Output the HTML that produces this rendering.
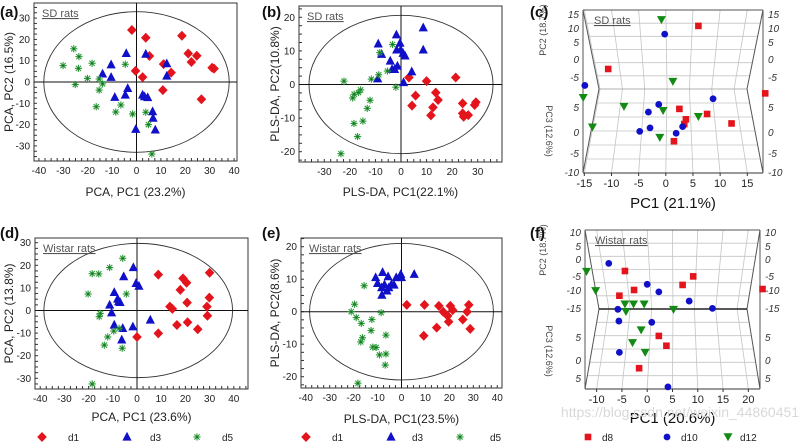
<!DOCTYPE html>
<html><head><meta charset="utf-8"><style>
html,body{margin:0;padding:0;background:#fff}
svg{display:block;font-family:"Liberation Sans",sans-serif}
</style></head><body>
<svg id="fig" width="810" height="446" viewBox="0 0 810 446" xmlns="http://www.w3.org/2000/svg"></svg>
<script>
// ---------- Panel (a) PCA SD rats ----------
const a_d1=[[-1.9,24.4],[3.8,20.8],[18.6,21.7],[5.3,12.2],[21.2,13.4],[24.7,12.3],[22.5,9.4],[-0.4,5.2],[2.5,2.3],[11.1,8.4],[14.2,4.4],[10.8,-3.8],[31,6.7],[31.8,6.3],[26.6,-8.1]];
const a_d3=[[-4.2,13.4],[3.8,13.1],[-10.4,8.1],[-13.9,3.8],[-10.4,2.2],[-3.6,-3],[-4.6,-6.1],[-8.9,-7.2],[2.5,-6.1],[3.3,-6.9],[4.6,-7.3],[12.4,8.6],[12.4,2.8],[6.6,-13.9],[6.8,-17],[7.7,-22.5],[-0.3,-22.2]];
const a_d5=[[-25.7,15.6],[-23.6,11.9],[-30.1,7.7],[-23.8,6.4],[-18.2,8.8],[-20.1,1.7],[-25.1,-1.2],[-15.3,1.4],[-13.9,-0.9],[-15.3,-3.8],[-16.5,-11.6],[-4.6,8.3],[-6.4,-10.8],[-8.5,-14.1],[-1.6,-15],[3.8,-14.2],[4.9,-20],[6.3,-33.8]];
// ---------- Panel (b) PLS-DA SD rats ----------
const b_d1=[[3.1,2.1],[10,1],[21.4,2.1],[5.7,-3.3],[4.3,-6.3],[13.6,-2.4],[14.5,-4.6],[12.5,-6.8],[11.7,-9.2],[24.1,-5.6],[29.3,-5.3],[28.8,-6.1],[24.1,-8.6],[26.3,-9.1],[24.5,-9.6]];
const b_d3=[[8.7,16.9],[8.7,10.3],[-1.8,14.8],[-8.9,12.1],[-7.6,9],[-0.4,12.3],[-0.1,10.3],[-1.7,10.3],[0.8,9.3],[1.6,8.5],[-4.2,7],[-3.5,4.5],[-2.5,4.5],[-1.4,5.5],[4.2,3.8],[-9.1,1.7],[1,0.6]];
const b_d5=[[-3.3,11.9],[-8.3,9.5],[-8.7,2.9],[-5.3,4],[-11.6,1.6],[-2,-0.8],[-22.3,1],[-15.8,-1.6],[-16.6,-2.4],[-18.3,-2.9],[-18.9,-4],[-12.1,-4.7],[-13.2,-7.1],[-14.9,-10.9],[-18.4,-11.6],[-17,-15.5],[-23.5,-20.6]];
// ---------- Panel (d) PCA Wistar ----------
const d_d1=[[8.8,15.9],[19,14.2],[20.5,12.3],[30,16.7],[17.9,9.1],[29.9,5.7],[20.7,3.5],[13.6,1.7],[14.6,0.7],[28.9,1.7],[29.1,-2.3],[16.5,-6.4],[20.9,-5.2],[25.1,-8.3],[8.8,-10.1],[0,-11.7]];
const d_d3=[[-1.5,19],[-5.5,15],[-9.4,8],[-8,5.1],[-7,3.6],[-11.3,2.4],[-10.5,-1],[-9.4,-6.4],[-5.9,-7.9],[-1.7,-7.2],[-0.4,12],[0.8,10.8],[5.5,-4.2],[-6.3,-13],[-7.6,3.9]];
const d_d5=[[-5.9,23.1],[-11.3,19],[-18.5,16.3],[-15.8,16.2],[-20.2,7.3],[-4.4,7.3],[-15.2,-1.3],[-15.6,-2.7],[-7.4,-7.9],[-9.6,-9.1],[-12.1,-11.7],[-13.5,-15.3],[-6.1,-16.7],[-18.5,-32.5]];
// ---------- Panel (e) PLS-DA Wistar ----------
const e_d1=[[2.2,2.1],[9.6,2.1],[15.6,1.8],[20.4,1.8],[28.1,2.1],[17.4,0],[19.3,-1.3],[19.7,-3.1],[21.4,0.5],[27.4,0],[25.6,-2.4],[28.7,-5.3],[14.7,-4.9],[9.3,-7.4]];
const e_d3=[[-7.9,12.1],[-10.8,10.5],[-10,8.7],[-8.3,7.4],[-5.6,10.8],[-4.2,8.4],[-2.2,10.5],[-0.3,11.5],[0,10.5],[-7.1,8.3],[-8.2,5.1],[-6.1,6.4],[-5.3,7.4],[5.3,11.5],[-3.1,8.2]];
const e_d5=[[-15.6,8],[-19.6,2.3],[-21,0],[-18.9,-1.8],[-16.8,-3.6],[-12.4,-2.4],[-8.5,-0.3],[-12.7,-5.8],[-6.5,-7.2],[-16.3,-8],[-17,-9.3],[-12,-10.9],[-10.6,-11],[-9.2,-13.3],[-6.5,-13],[-6.8,-16.4],[-18.2,-22]];
// ---------- Panel (c) 3D SD rats (PC1, projected height) ----------
const c_d8=[[6,11.3],[-10.6,-2.3],[2.5,-14.9],[3.7,-18.2],[3.4,-19.7],[7.6,-16.5],[12.1,-19.5],[18.3,-10],[1.5,-25.1]];
const c_d10=[[-0.2,8.7],[-14.9,-7.5],[-1.3,-13.5],[-3.2,-15.9],[-2.9,-20.9],[-4.8,-22],[1.9,-22.6],[3.1,-20.5],[8.7,-11.7]];
const c_d12=[[-0.8,13.2],[1.3,-6.3],[-15.2,-11.4],[-7.7,-14.2],[-0.5,-15.5],[-13.5,-20.7],[-1.1,-24],[6,-17.4]];
// ---------- Panel (f) 3D Wistar ----------
const f_d8=[[-4.4,1.8],[-2.6,-4.2],[-5.5,-6],[7,-2.6],[9.1,0.1],[22.8,-3.9],[2.3,-18.7],[3.8,-21.8],[-1.6,-28.9]];
const f_d10=[[-7.6,4.2],[0,-2.4],[2.3,-4.8],[8.3,-7.7],[12.9,-10],[-5.8,-10.3],[-5.6,-14],[0.9,-14.4],[-5.5,-23.9],[4.1,-34.8]];
const f_d12=[[-12,1.6],[-10.2,-4.5],[-4.4,-8.7],[-2.7,-8.7],[-0.6,-8.7],[-4.2,-11.1],[5.2,-10.4],[-1.2,-16.9],[-2.9,-20.9],[-0.4,-24]];
const xt2d=[-40,-30,-20,-10,0,10,20,30,40];
const xtPLS=[-30,-20,-10,0,10,20,30];
const yt30=[-30,-20,-10,0,10,20,30];
const yt20=[-20,-10,0,10,20];
const c_xt=[-15,-10,-5,0,5,10,15];
const f_xt=[-10,-5,0,5,10,15,20];

const NS="http://www.w3.org/2000/svg";
const svg=document.getElementById('fig');
const RED="#e3141b",BLUE="#1010c8",GRN="#2a9a3a",DGRN="#138a13";
function mk(tag,attrs,parent){const e=document.createElementNS(NS,tag);for(const k in attrs)e.setAttribute(k,attrs[k]);(parent||svg).appendChild(e);return e;}
function txt(s,x,y,size,anchor,parent,extra){const t=mk('text',Object.assign({x:x,y:y,'font-size':size,'text-anchor':anchor||'middle',fill:'#222'},extra||{}),parent);t.textContent=s;return t;}
function diamond(g,x,y){const p=mk('polygon',{points:`${x},${y-5} ${x+4.8},${y} ${x},${y+5} ${x-4.8},${y}`,fill:RED},g);return p;}
function tri(g,x,y,c){const p=mk('polygon',{points:`${x},${y-5.2} ${x+4.6},${y+3.6} ${x-4.6},${y+3.6}`,fill:c||BLUE},g);return p;}
function star(g,x,y){const s=mk('g',{stroke:GRN,'stroke-width':1.1},g);
 const r=3.6,q=2.6;mk('line',{x1:x-r,y1:y,x2:x+r,y2:y},s);mk('line',{x1:x,y1:y-r,x2:x,y2:y+r},s);mk('line',{x1:x-q,y1:y-q,x2:x+q,y2:y+q},s);mk('line',{x1:x-q,y1:y+q,x2:x+q,y2:y-q},s);mk('circle',{cx:x,cy:y,r:1,fill:'#1d6e1d',stroke:'none'},s);return s;}
function square(g,x,y){const p=mk('rect',{x:x-3.3,y:y-3.3,width:6.6,height:6.6,fill:RED},g);return p;}
function dot(g,x,y){const p=mk('circle',{cx:x,cy:y,r:3.4,fill:BLUE},g);return p;}
function vtri(g,x,y){const p=mk('polygon',{points:`${x-4.5},${y-3.8} ${x+4.5},${y-3.8} ${x},${y+4.2}`,fill:DGRN},g);return p;}

function panel2d(o){
 const g=mk('g',{});
 const X=v=>o.x0+o.sx*v, Y=v=>o.y0-o.sy*v;
 const [L,T,R,B]=o.box;
 mk('rect',{x:L,y:T,width:R-L,height:B-T,fill:'none',stroke:'#333','stroke-width':1},g);
 // minor ticks
 for(let v=Math.ceil((L-o.x0)/o.sx/2.5)*2.5; X(v)<=R; v+=2.5){mk('line',{x1:X(v),y1:B,x2:X(v),y2:B-3,stroke:'#333'},g);}
 for(let v=Math.ceil((o.y0-B)/o.sy/2.5)*2.5; Y(v)>=T; v+=2.5){mk('line',{x1:L,y1:Y(v),x2:L+3,y2:Y(v),stroke:'#333'},g);}
 o.xt.forEach(v=>{const t=txt(String(v),X(v),B+13,10,'middle',g);});
 o.yt.forEach(v=>{const t=txt(String(v),L-4,Y(v)+3.5,10,'end',g);});
 const el=mk('ellipse',{cx:X(o.ell[0]),cy:Y(0),rx:o.ell[1]*o.sx,ry:o.ell[2]*o.sy,fill:'none',stroke:'#333','stroke-width':0.9},g);
 
 mk('line',{x1:L,y1:Y(0),x2:R,y2:Y(0),stroke:'#111'},g);mk('line',{x1:X(0),y1:T,x2:X(0),y2:B,stroke:'#111'},g);
 const lab=txt(o.group,L+8,T+14,11,'start',g,{fill:'#555','text-decoration':'underline'});
 const xt=txt(o.xtitle,(L+R)/2,o.xtY,12,'middle',g);
 const yt=txt(o.ytitle,0,0,12,'middle',g,{transform:`translate(${o.ytX},${(T+B)/2}) rotate(-90)`});
 o.d1.forEach(p=>diamond(g,X(p[0]),Y(p[1])));
 o.d3.forEach(p=>tri(g,X(p[0]),Y(p[1])));
 o.d5.forEach(p=>star(g,X(p[0]),Y(p[1])));
}
panel2d({name:'panel-a-pca-sd',x0:136.5,sx:2.44,y0:82,sy:2.13,box:[34,3,237,161],xt:xt2d,yt:yt30,ell:[0,38,33],group:'SD rats',xtitle:'PCA, PC1 (23.2%)',xtY:196,ytitle:'PCA, PC2 (16.5%)',ytX:13,d1:a_d1,d3:a_d3,d5:a_d5});
panel2d({name:'panel-b-plsda-sd',x0:401,sx:2.557,y0:84.5,sy:3.36,box:[299,6,502,162],xt:xtPLS,yt:yt20,ell:[0,36,20.6],group:'SD rats',xtitle:'PLS-DA, PC1(22.1%)',xtY:196,ytitle:'PLS-DA, PC2(10.8%)',ytX:279,d1:b_d1,d3:b_d3,d5:b_d5});
panel2d({name:'panel-d-pca-wistar',x0:137,sx:2.42,y0:310.5,sy:2.26,box:[35,238,248,389],xt:xt2d,yt:yt30,ell:[0.5,39,29.7],group:'Wistar rats',xtitle:'PCA, PC1 (23.6%)',xtY:421,ytitle:'PCA, PC2 (13.8%)',ytX:13,d1:d_d1,d3:d_d3,d5:d_d5});
panel2d({name:'panel-e-plsda-wistar',x0:401.5,sx:2.394,y0:311.7,sy:3.25,box:[301,238,502,388],xt:xt2d,yt:yt20,ell:[0,38.4,21],group:'Wistar rats',xtitle:'PLS-DA, PC1(23.5%)',xtY:423,ytitle:'PLS-DA, PC2(8.6%)',ytX:279,d1:e_d1,d3:e_d3,d5:e_d5});

function panel3d(o){
 const g=mk('g',{});
 const X=v=>o.x0+o.sx*v, Y=v=>o.y0-3.167*v;
 const {L,R,T,B,M,iL,iR}=o;
 const back=fx=>iL+(fx-L)*(iR-iL)/(R-L);
 // horizontal grid
 for(let i=1;i<6;i++){const f=i/6;
  const y1=T+(M-T)*f, xa=L+(iL-L)*f, xb=R-(R-iR)*f; mk('line',{x1:xa,y1:y1,x2:xb,y2:y1,stroke:'#c4c4c4','stroke-width':0.8},g);
  const y2=B-(B-M)*f; mk('line',{x1:xa,y1:y2,x2:xb,y2:y2,stroke:'#c4c4c4','stroke-width':0.8},g);}
 o.xt.forEach(v=>{const fx=X(v),bx=back(fx);mk('polyline',{points:`${fx},${T} ${bx},${M} ${fx},${B}`,fill:'none',stroke:'#c4c4c4','stroke-width':0.8},g);
   mk('line',{x1:fx,y1:B,x2:fx,y2:B+3,stroke:'#333'},g);
   const t=txt(String(v),fx,B+14,11,'middle',g);});
 mk('line',{x1:L,y1:T,x2:R,y2:T,stroke:'#555'},g);mk('line',{x1:L,y1:B,x2:R,y2:B,stroke:'#333'},g);
 mk('polyline',{points:`${L},${T} ${iL},${M} ${L},${B}`,fill:'none',stroke:'#555'},g);
 mk('polyline',{points:`${R},${T} ${iR},${M} ${R},${B}`,fill:'none',stroke:'#555'},g);
 mk('line',{x1:L,y1:T,x2:L,y2:B,stroke:'#555'},g);mk('line',{x1:R,y1:T,x2:R,y2:B,stroke:'#555'},g);
 mk('line',{x1:iL,y1:M,x2:iR,y2:M,stroke:o.midDark?'#222':'#999','stroke-width':o.midDark?1.4:0.8},g);
 o.side.forEach(s=>{const a=txt(s[0],L-4,s[1]+3,10,'end',g,{fill:'#333','font-style':'italic'});
   const b=txt(s[0],R+5,s[1]+3,10,'start',g,{fill:'#333','font-style':'italic'});});
 const t1=txt(o.pc2,0,0,9,'middle',g,{fill:'#444',transform:`translate(${o.axX},${T+20}) rotate(-90)`});
 const t2=txt(o.pc3,0,0,9,'middle',g,{fill:'#444',transform:`translate(${o.axX},${M+42}) rotate(90)`});
 const xt=txt(o.xtitle,(L+R)/2,o.xtY,15,'middle',g,{fill:'#111'});
 const lab=txt(o.group,o.gx,T+14,11,'start',g,{fill:'#555','text-decoration':'underline'});
 o.d8.forEach(p=>square(g,X(p[0]),Y(p[1])));
 o.d10.forEach(p=>dot(g,X(p[0]),Y(p[1])));
 o.d12.forEach(p=>vtri(g,X(p[0]),Y(p[1])));
}
panel3d({name:'panel-c-3d-sd',x0:665.8,sx:5.433,y0:61.7,L:583,R:763,T:10,B:173,M:89,iL:599,iR:747,xt:c_xt,
 side:[['15',15],['10',29],['5',43],['0',60],['-5',78],['5',108],['0',133],['-5',154],['-10',173]],pc2:'PC2 (18.7%)',pc3:'PC3 (12.6%)',axX:546,xtitle:'PC1 (21.1%)',xtY:208,group:'SD rats',gx:594,d8:c_d8,d10:c_d10,d12:c_d12});
panel3d({name:'panel-f-3d-wistar',x0:647.2,sx:5.057,y0:276.7,L:585,R:760,T:230,B:389,M:309,iL:599,iR:747,xt:f_xt,midDark:true,
 side:[['10',233],['5',247],['0',260],['-5',277],['-10',291],['-15',309],['5',338],['0',361],['5',379]],pc2:'PC2 (18.7%)',pc3:'PC3 (12.6%)',axX:546,xtitle:'PC1 (20.6%)',xtY:423,group:'Wistar rats',gx:595,d8:f_d8,d10:f_d10,d12:f_d12});

// panel letters
[['(a)',0,17],['(b)',262,17],['(c)',530,17],['(d)',0,238],['(e)',262,238],['(f)',530,238]].forEach(l=>{const t=txt(l[0],l[1],l[2],15,'start',svg,{'font-weight':'bold',fill:'#111'});});

// watermark
const wm=txt('https://blog.csdn.net/weixin_44860451',680,417,14,'middle',svg,{fill:'#d8d8d8'});


// legends
function legend(items,y,name){const g=mk('g',{});
 items.forEach(it=>{const e=mk('g',{},g);
  it.m(e,it.x,y);const t=txt(it.t,it.tx,y+4,10,'start',e);});}
legend([{m:diamond,x:42,tx:68,t:'d1'},{m:(g,x,y)=>tri(g,x,y),x:127,tx:150,t:'d3'},{m:star,x:197,tx:222,t:'d5'}],437,'legend-pca');
legend([{m:diamond,x:306,tx:332,t:'d1'},{m:(g,x,y)=>tri(g,x,y),x:391,tx:412,t:'d3'},{m:star,x:460,tx:490,t:'d5'}],437,'legend-plsda');
legend([{m:square,x:588,tx:602,t:'d8'},{m:dot,x:667,tx:681,t:'d10'},{m:vtri,x:728,tx:740,t:'d12'}],437,'legend-3d');
</script>
</body></html>
